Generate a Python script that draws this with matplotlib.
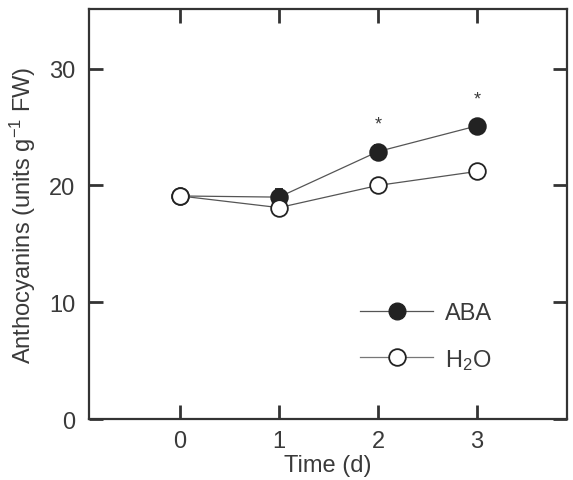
import numpy as np
import matplotlib.pyplot as plt
from matplotlib.lines import Line2D

plt.rcParams['font.family'] = ['Liberation Sans', 'DejaVu Sans']
plt.rcParams['mathtext.default'] = 'regular'

days = [0, 1, 2, 3]
aba = [19.1, 19.0, 22.9, 25.1]
aba_err = [0.3, 0.7, 0.6, 0.5]
h2o = [19.1, 18.1, 20.0, 21.2]
h2o_err = [0.3, 0.3, 0.3, 0.3]
signif = [False, False, True, True]

txt = '#3a3a3a'
fs = 17
fig = plt.figure(figsize=(5.73, 4.81), dpi=100)
ax = fig.add_axes([0.1553, 0.1268, 0.8342, 0.8522])

ax.errorbar(days, aba, yerr=aba_err, color='#555555', lw=0.9, marker='o', ms=12,
            mfc='#222222', mec='#222222', mew=1.3, ecolor='#222222', capsize=3, zorder=3)
ax.errorbar(days, h2o, yerr=h2o_err, color='#555555', lw=0.9, marker='o', ms=12,
            mfc='white', mec='#222222', mew=1.3, ecolor='#222222', capsize=0, zorder=4)

# significance marks
for d, v, e, s in zip(days, aba, aba_err, signif):
    if s:
        ax.text(d, v + e + 1.8, '*', ha='center', va='center', fontsize=13, color=txt)

ax.set_xlim(-0.92, 3.91)
ax.set_ylim(0, 35.1)
ax.set_xticks(days)
ax.set_yticks([0, 10, 20, 30])
ax.tick_params(direction='in', length=10, width=2, color='#333333', labelsize=fs,
               labelcolor=txt, top=True, right=True, pad=10)
ax.tick_params(axis='x', pad=8)
for sp in ax.spines.values():
    sp.set_linewidth(1.6)
    sp.set_color('#333333')

ax.set_xlabel('Time (d)', fontsize=fs, color=txt, labelpad=1)
ax.set_ylabel('Anthocyanins (units g$^{-1}$ FW)', fontsize=fs, color=txt, labelpad=8)

handles = [
    Line2D([], [], color='#555555', lw=0.9, marker='o', ms=12, mfc='#222222', mec='#222222'),
    Line2D([], [], color='#777777', lw=0.9, marker='o', ms=12, mfc='white', mec='#222222', mew=1.3),
]
ax.legend(handles, ['ABA', 'H$_2$O'], loc='upper left', bbox_to_anchor=(0.567, 0.285),
          borderaxespad=0, borderpad=0, frameon=False, fontsize=fs, handlelength=3.1,
          labelspacing=0.95, handletextpad=0.5, labelcolor=txt)

fig.savefig('out.png', dpi=100)
